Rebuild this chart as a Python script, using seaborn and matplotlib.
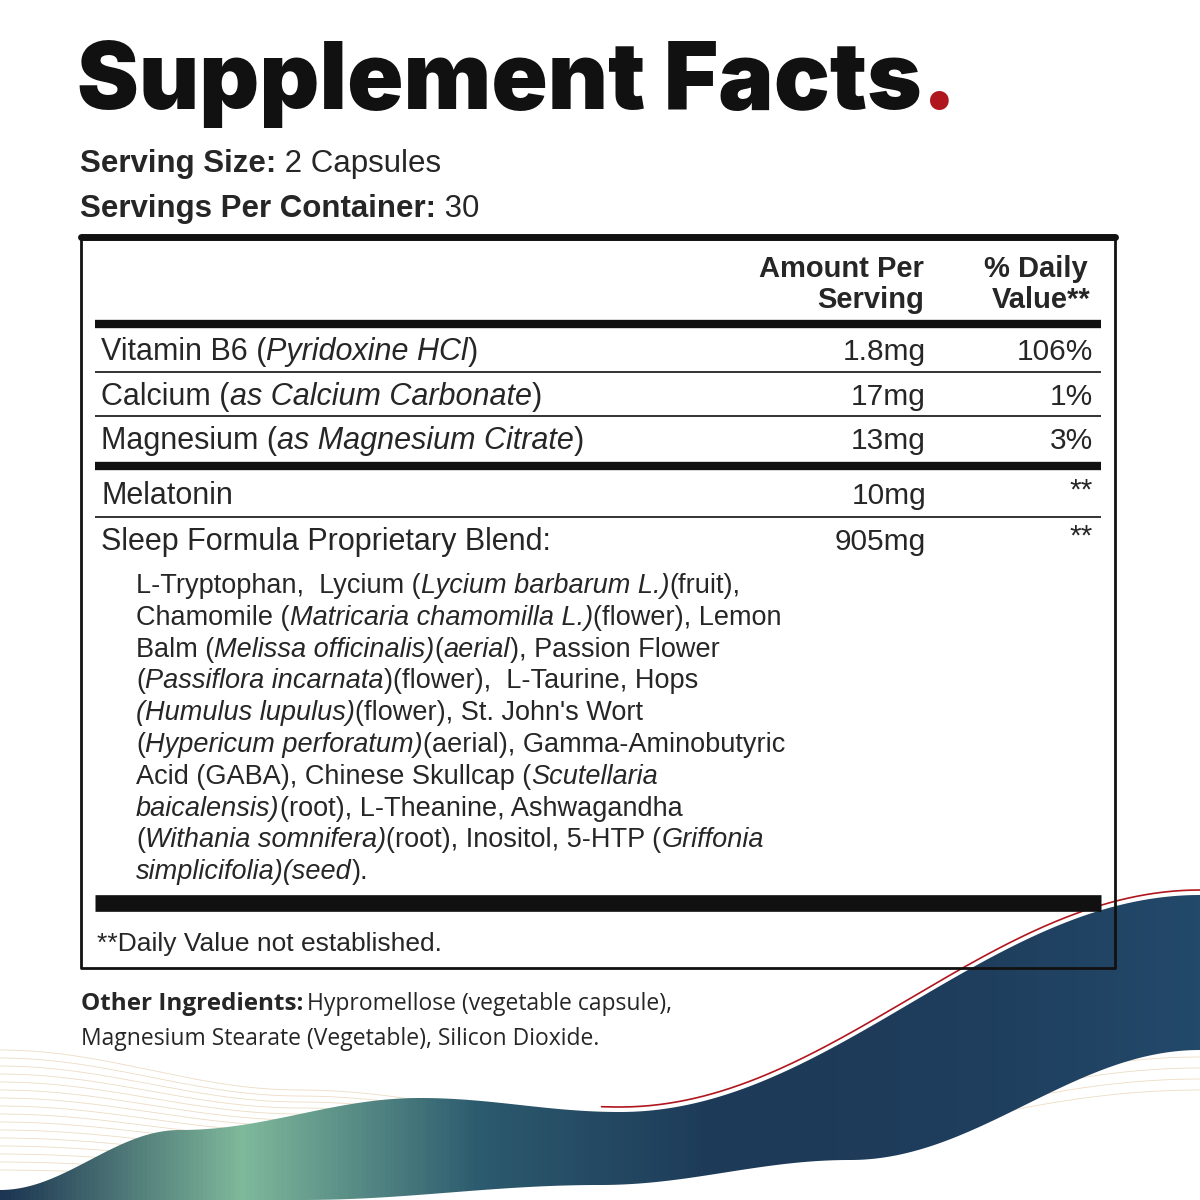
import matplotlib
matplotlib.use("Agg")
import matplotlib.pyplot as plt
import numpy as np
import seaborn as sns
from matplotlib.patches import Polygon
from matplotlib.colors import LinearSegmentedColormap

sns.set_theme(style="white")
plt.rcParams['font.family'] = ['Liberation Sans', 'DejaVu Sans']

# ---- label content ----
title = "Supplement Facts"
serving_size = "2 Capsules"
servings_per_container = "30"
row_names = [
    [("Vitamin B6 (", 0), ("Pyridoxine HCl", 1), (")", 0)],
    [("Calcium (", 0), ("as Calcium Carbonate", 1), (")", 0)],
    [("Magnesium (", 0), ("as Magnesium Citrate", 1), (")", 0)],
    [("Melatonin", 0)],
    [("Sleep Formula Proprietary Blend:", 0)],
]
row_amounts = ["1.8mg", "17mg", "13mg", "10mg", "905mg"]
row_dv = ["106%", "1%", "3%", "**", "**"]
blend_lines = [
    [("L-Tryptophan,  Lycium (", 0), ("Lycium barbarum L.)", 1), ("(fruit),", 0)],
    [("Chamomile (", 0), ("Matricaria chamomilla L.)", 1), ("(flower), Lemon", 0)],
    [("Balm (", 0), ("Melissa officinalis)", 1), ("(", 0), ("aerial", 1), ("), Passion Flower", 0)],
    [("(", 0), ("Passiflora incarnata", 1), (")(flower),  L-Taurine, Hops", 0)],
    [("(Humulus lupulus)", 1), ("(flower), St. John's Wort", 0)],
    [("(", 0), ("Hypericum perforatum)", 1), ("(aerial), Gamma-Aminobutyric", 0)],
    [("Acid (GABA), Chinese Skullcap (", 0), ("Scutellaria", 1)],
    [("baicalensis)", 1), ("(root), L-Theanine, Ashwagandha", 0)],
    [("(", 0), ("Withania somnifera)", 1), ("(root), Inositol, 5-HTP (", 0), ("Griffonia", 1)],
    [("simplicifolia)(seed", 1), (").", 0)],
]
footnote = "**Daily Value not established."
other_1 = "Hypromellose (vegetable capsule),"
other_2 = "Magnesium Stearate (Vegetable), Silicon Dioxide."

fig = plt.figure(figsize=(12, 12), dpi=100)
ax = fig.add_axes([0, 0, 1, 1])
ax.set_xlim(0, 1200)
ax.set_ylim(1200, 0)
ax.axis("off")
renderer = fig.canvas.get_renderer()


def segs(x, y, parts, size, weight="normal", family=None, colors=None):
    for i, (s, it) in enumerate(parts):
        kw = dict(fontsize=size, weight=weight, va="center", ha="left",
                  style="italic" if it else "normal")
        if family:
            kw["family"] = family
        if colors:
            kw["color"] = colors[i]
        t = ax.text(x, y, s, **kw)
        x += t.get_window_extent(renderer).width
    return x


def smooth(xp, yp, xs):
    # cosine-eased interpolation between control points
    out = np.empty_like(xs)
    for j, x in enumerate(xs):
        k = min(np.searchsorted(xp, x, side="right") - 1, len(xp) - 2)
        t = (x - xp[k]) / (xp[k + 1] - xp[k])
        t = (1 - np.cos(np.pi * t)) / 2
        out[j] = yp[k] + (yp[k + 1] - yp[k]) * t
    return out


# ---- background wave ----
xs = np.linspace(0, 1200, 400)
top = smooth([0, 180, 420, 620, 1200], [1190, 1130, 1098, 1112, 895], xs)
bot = smooth([0, 300, 600, 850, 1200], [1200, 1200, 1185, 1160, 1050], xs)
grad = np.linspace(0, 1, 400)
cmap = LinearSegmentedColormap.from_list("w", ["#1c3552", "#7fb99b", "#2c5a6e", "#1d3a58", "#1f3d5c", "#23496a"])
img = ax.imshow(grad[None, :], cmap=cmap, extent=[0, 1200, 1200, 880], aspect="auto", zorder=1)
poly = Polygon(np.column_stack([np.r_[xs, xs[::-1]], np.r_[top, bot[::-1]]]), closed=True,
               transform=ax.transData, facecolor="none", edgecolor="none")
ax.add_patch(poly)
img.set_clip_path(poly)
ax.set_xlim(0, 1200)
ax.set_ylim(1200, 0)
for k in range(16):
    yl = smooth([0, 300, 600, 1200], [1050 + k * 8, 1090 + k * 6, 1120 + k * 4, 925 + k * 11], xs)
    ax.plot(xs, yl, color="#d9b98a", lw=0.6, alpha=0.5, zorder=0)
ax.plot(xs[200:], top[200:] - 5, color="#b0161e", lw=1.2, zorder=1)

# ---- title and serving ----
segs(77, 84, [(title, 0), (".", 0)], 67, weight="black", family="Inter",
     colors=["#111111", "#b0161e"])
x = segs(80, 164, [("Serving Size:", 0)], 22.5, weight="bold")
segs(x, 164, [(" " + serving_size, 0)], 22.5)
x = segs(80, 209, [("Servings Per Container:", 0)], 22.5, weight="bold")
segs(x, 209, [(" " + servings_per_container, 0)], 22.5)

# ---- box ----
L, R, T, B = 81, 1115, 236, 968
ax.plot([L, R, R, L, L], [T, T, B, B, T], color="#111111", lw=2, zorder=3)
ax.plot([L, R], [T + 1, T + 1], color="#111111", lw=5, zorder=3)
ax.text(924, 269, "Amount Per", fontsize=21, weight="bold", ha="right", va="center")
ax.text(924, 300, "Serving", fontsize=21, weight="bold", ha="right", va="center")
ax.text(1088, 269, "% Daily", fontsize=21, weight="bold", ha="right", va="center")
ax.text(1091, 300, "Value**", fontsize=21, weight="bold", ha="right", va="center")

for yy, lw in [(324, 6), (372, 1.2), (416, 1.2), (466, 6), (517, 1.2), (903, 12)]:
    ax.plot([95, 1101], [yy, yy], color="#111111", lw=lw, solid_capstyle="butt")

row_y = [352, 397, 441, 496, 542]
for parts, amt, dv, yy in zip(row_names, row_amounts, row_dv, row_y):
    segs(101, yy, parts, 22)
    ax.text(926, yy, amt, fontsize=21.5, ha="right", va="center")
    ax.text(1093, yy - (5 if dv == "**" else 0), dv, fontsize=21.5, ha="right", va="center")

for i, parts in enumerate(blend_lines):
    segs(136, 586 + i * 31.8, parts, 19.5)

ax.text(97, 944, footnote, fontsize=19, ha="left", va="center")

# ---- other ingredients ----
x = segs(81, 1004, [("Other Ingredients:", 0)], 17.5, weight="bold", family="Open Sans")
segs(x + 4, 1004, [(other_1, 0)], 16.5, family="Open Sans")
segs(81, 1039, [(other_2, 0)], 16.5, family="Open Sans")

fig.savefig("out.png", dpi=100, facecolor="white")
